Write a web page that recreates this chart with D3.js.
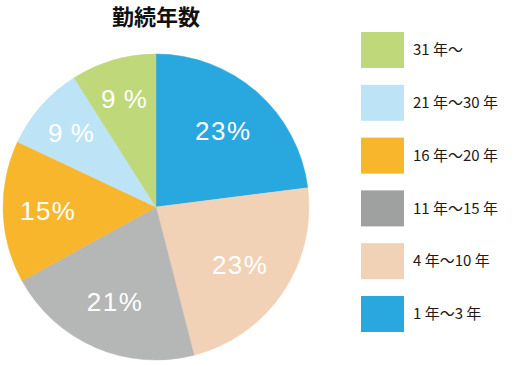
<!DOCTYPE html>
<html>
<head>
<meta charset="utf-8">
<script src="https://cdn.jsdelivr.net/npm/d3@7"></script>
<style>
  body { margin: 0; background: #fff; }
  svg { display: block; }
</style>
</head>
<body>
<div id="chart"></div>
<script>
// data, pie order (clockwise from 12 o'clock)
var categories = ["1 年〜3 年", "4 年〜10 年", "11 年〜15 年", "16 年〜20 年", "21 年〜30 年", "31 年〜"];
var values = [23, 23, 21, 15, 9, 9];
var sliceColors = ["#29a7df", "#f2d2b7", "#b5b6b6", "#f8b62d", "#bde3f7", "#bfd87a"];
var legendColors = ["#29a7df", "#f2d2b7", "#9fa0a0", "#f8b62d", "#bde3f7", "#bfd87a"];
var title = "勤続年数";

var svgWidth = 518;
var svgHeight = 366;

var svg = d3.select("#chart")
  .append("svg")
  .attr("width", svgWidth)
  .attr("height", svgHeight);

var cx = 156, cy = 207, radius = 153;

// title
svg.append("text")
  .attr("x", cx)
  .attr("y", 25)
  .attr("text-anchor", "middle")
  .attr("font-family", "'Noto Sans CJK JP', sans-serif")
  .attr("font-weight", "bold")
  .attr("font-size", 22)
  .attr("fill", "#111")
  .text(title);

var total = d3.sum(values);

var data = categories.map(function(c, i) {
  return { label: c, value: values[i], color: sliceColors[i], legend: legendColors[i] };
});

var pie = d3.pie()
  .sort(null)
  .value(d => d.value);

var arc = d3.arc()
  .innerRadius(0)
  .outerRadius(radius);

// smaller slices get their label pushed a bit further out
function labelPos(d) {
  var r = radius * (0.78 - 0.5 * d.data.value / total);
  return d3.arc().innerRadius(r).outerRadius(r).centroid(d);
}

var pieGroup = svg.append("g")
  .attr("transform", `translate(${cx}, ${cy})`);

var slices = pieGroup.selectAll("g.slice")
  .data(pie(data))
  .enter()
  .append("g")
  .attr("class", "slice");

slices.append("path")
  .attr("d", arc)
  .attr("fill", d => d.data.color)
  .attr("stroke", d => d.data.color)
  .attr("stroke-width", 0.5);

slices.append("text")
  .attr("transform", d => `translate(${labelPos(d)})`)
  .attr("text-anchor", "middle")
  .attr("dy", "0.36em")
  .attr("font-family", "'Liberation Sans', Arial, sans-serif")
  .attr("font-size", 26)
  .attr("letter-spacing", 1.5)
  .attr("fill", "#fff")
  .text(d => d.data.value < 10 ? d.data.value + "\u2009%" : d.data.value + "%");

// legend, reverse order
var legendData = data.slice().reverse();
var legendY = d3.scaleBand()
  .domain(legendData.map(d => d.label))
  .range([32, 32 + 52.8 * legendData.length])
  .paddingInner(0);

var legend = svg.append("g");

var items = legend.selectAll("g")
  .data(legendData)
  .enter()
  .append("g")
  .attr("transform", d => `translate(361, ${legendY(d.label)})`);

items.append("rect")
  .attr("width", 43)
  .attr("height", 36)
  .attr("fill", d => d.legend);

items.append("text")
  .attr("x", 52)
  .attr("y", 18)
  .attr("dy", "0.35em")
  .attr("font-family", "'Noto Sans CJK JP', sans-serif")
  .attr("font-size", 15)
  .attr("fill", "#231815")
  .text(d => d.label);
</script>
</body>
</html>
